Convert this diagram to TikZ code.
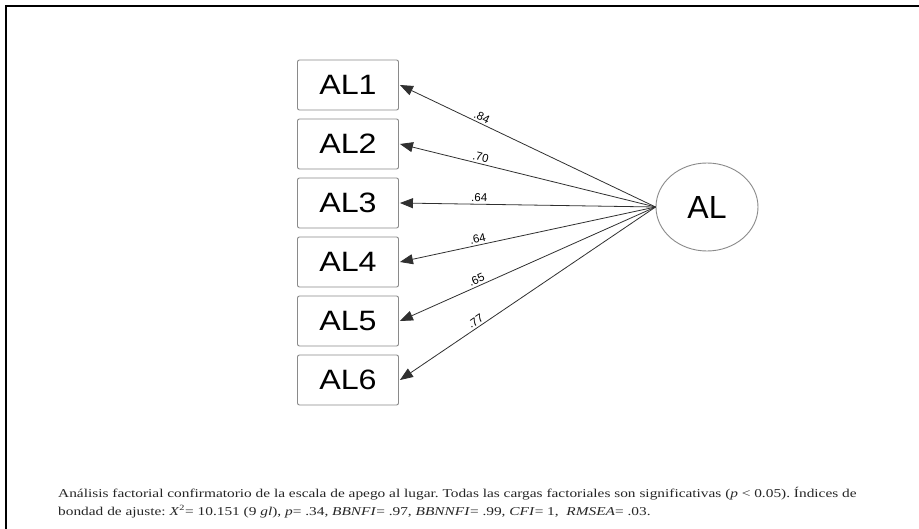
\documentclass[tikz,border=0pt]{standalone}
\usepackage{fontspec}
\setmainfont{Liberation Serif}
\setsansfont{Liberation Sans}
\usetikzlibrary{arrows.meta,shapes.geometric}
\definecolor{boxgray}{HTML}{8A8A8A}
\definecolor{linegray}{HTML}{303030}
\frenchspacing
\tikzset{
  itembox/.style={draw=boxgray, line width=0.9pt, rounded corners=2pt,
    minimum width=101pt, minimum height=50pt, inner sep=0pt,
    font=\sffamily\fontsize{28}{30}\selectfont},
  latent/.style={draw=boxgray, line width=0.9pt, ellipse,
    minimum width=102pt, minimum height=88pt, inner sep=0pt,
    font=\sffamily\fontsize{32}{34}\selectfont},
  loading/.style={draw=linegray, line width=0.8pt,
    -{Triangle[length=13pt,width=10pt]}},
  weight/.style={font=\sffamily\fontsize{11.5}{12}\selectfont, sloped, above,
    inner sep=1pt, yshift=1pt, pos=0.69},
  caption/.style={anchor=base west, inner sep=0pt,
    font=\rmfamily\fontsize{12}{14}\selectfont, text=black!85}
}
\begin{document}
\begin{tikzpicture}[x=1pt,y=-1pt]
  \useasboundingbox (0,0) rectangle (919,529);
  \fill[white] (0,0) rectangle (919,529);
  % frame edges along the top and the left
  \draw[line width=2.6pt] (6,529) -- (6,6) -- (919,6);

  % observed indicators
  \node[itembox] (b1) at (348,85)  {\scalebox{1.15}[1]{AL1}};
  \node[itembox] (b2) at (348,144) {\scalebox{1.15}[1]{AL2}};
  \node[itembox] (b3) at (348,203) {\scalebox{1.15}[1]{AL3}};
  \node[itembox] (b4) at (348,262) {\scalebox{1.15}[1]{AL4}};
  \node[itembox] (b5) at (348,321) {\scalebox{1.15}[1]{AL5}};
  \node[itembox] (b6) at (348,380) {\scalebox{1.15}[1]{AL6}};

  % latent factor
  \node[latent] (al) at (707,207) {AL};
  \coordinate (src) at (al.west);

  % factor loadings
  \draw[loading] (src) -- node[weight] {.84} ([xshift=1pt]b1.east);
  \draw[loading] (src) -- node[weight] {.70} ([xshift=1pt]b2.east);
  \draw[loading] (src) -- node[weight] {.64} ([xshift=1pt]b3.east);
  \draw[loading] (src) -- node[weight] {.64} ([xshift=1pt]b4.east);
  \draw[loading] (src) -- node[weight] {.65} ([xshift=1pt]b5.east);
  \draw[loading] (src) -- node[weight] {.77} ([xshift=1pt]b6.east);

  % note below the model
  \node[caption] (cap1) at (58,497) {\scalebox{1.28}[1]{Análisis factorial confirmatorio de la escala de apego al lugar. Todas las cargas factoriales son significativas (\textit{p} < 0.05). Índices de}};
  \node[caption] (cap2) at (58,515) {\scalebox{1.28}[1]{bondad de ajuste: \textit{X}\textsuperscript{2}= 10.151 (9 \textit{gl}), \textit{p}= .34, \textit{BBNFI}= .97, \textit{BBNNFI}= .99, \textit{CFI}= 1,~ \textit{RMSEA}= .03.}};
\end{tikzpicture}
\end{document}
